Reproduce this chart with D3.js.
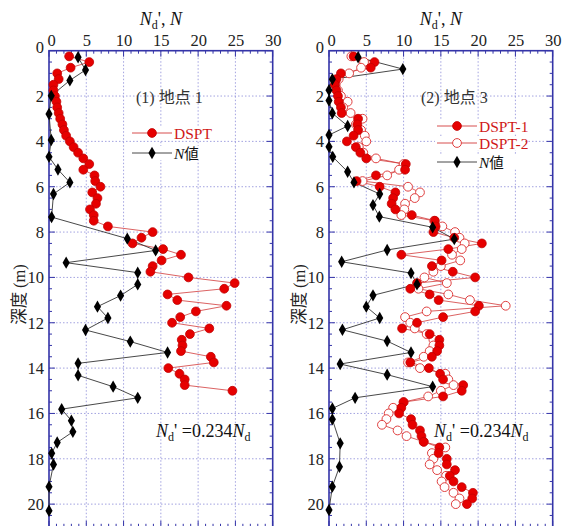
<!DOCTYPE html>
<html>
<head>
<meta charset="utf-8">
<script src="https://cdn.jsdelivr.net/npm/d3@7/dist/d3.min.js"></script>
<style>
  html, body { margin: 0; padding: 0; background: #fff; }
  svg { display: block; }
</style>
</head>
<body>
<svg id="chart" width="563" height="526"></svg>
<script>
// ---- data --------------------------------------------------------------
const xTicks = [0, 5, 10, 15, 20, 25, 30];
const yTicks = [0, 2, 4, 6, 8, 10, 12, 14, 16, 18, 20];

// Site 1: DSPT (converted N_d') at 0.25 m spacing
const site1DsptDepth = [0.25,0.5,0.75,1.0,1.25,1.5,1.75,2.0,2.25,2.5,2.75,3.0,3.25,3.5,3.75,4.0,4.25,4.5,4.75,5.0,
  5.25,5.5,5.75,6.0,6.25,6.5,6.75,7.0,7.25,7.5,7.75,8.0,8.25,8.5,8.75,9.0,9.25,9.5,9.75,10.0,
  10.25,10.5,10.75,11.0,11.25,11.5,11.75,12.0,12.25,12.5,12.75,13.0,13.25,13.5,13.75,14.0,14.25,14.5,14.75,15.0];
const site1Dspt = [2.7,5.4,2.9,1.1,1.3,0.6,0.6,0.8,1.0,1.1,1.3,1.5,1.8,2.0,2.3,2.8,3.3,3.9,4.6,5.4,
  4.6,6.1,6.2,6.9,5.8,6.5,6.3,5.5,6.0,6.0,7.9,13.9,12.4,11.2,15.3,17.7,15.1,13.9,13.6,18.7,
  24.9,23.5,15.9,17.2,23.8,19.7,17.6,16.5,21.5,18.9,17.8,17.9,17.7,21.7,22.1,16.0,17.5,18.2,18.2,24.6];

// Site 1: SPT N value
const site1NDepth = [0.29,0.85,1.31,1.99,2.79,3.94,4.68,5.24,5.81,6.32,7.34,8.29,8.81,9.35,9.79,10.31,10.80,
  11.29,11.79,12.32,12.83,13.31,13.79,14.32,14.82,15.31,15.81,16.32,16.81,17.28,17.76,18.25,19.23,20.29];
const site1N = [3.9,4.9,2.8,0.3,0,0.3,0,1.2,2.8,0.6,0.35,10.5,14.3,2.3,11.9,11.9,9.6,
  6.5,7.9,4.9,10.9,15.9,3.9,3.9,8.6,11.9,1.7,3.0,3.2,1.1,0.36,0.6,0,0];

// Site 3: DSPT-1 and DSPT-2 at 0.25 m spacing
const site3DsptDepth = [0.25,0.5,0.75,1.0,1.25,1.5,1.75,2.0,2.25,2.5,2.75,3.0,3.25,3.5,3.75,4.0,4.25,4.5,4.75,5.0,
  5.25,5.5,5.75,6.0,6.25,6.5,6.75,7.0,7.25,7.5,7.75,8.0,8.25,8.5,8.75,9.0,9.25,9.5,9.75,10.0,
  10.25,10.5,10.75,11.0,11.25,11.5,11.75,12.0,12.25,12.5,12.75,13.0,13.25,13.5,13.75,14.0,14.25,14.5,14.75,15.0,
  15.25,15.5,15.75,16.0,16.25,16.5,16.75,17.0,17.25,17.5,17.75,18.0,18.25,18.5,18.75,19.0,19.25,19.5,19.75,20.0];
const site3Dspt1 = [3.3,6.1,5.6,1.6,1.0,0.8,1.0,1.2,1.3,1.6,1.7,3.9,3.8,3.9,3.3,2.4,3.6,4.2,5.0,10.3,
  10.2,6.3,3.7,6.8,8.9,8.6,8.4,8.9,11.1,14.2,14.3,14.0,16.8,20.5,16.0,9.7,15.1,13.8,16.6,19.6,
  11.8,10.9,13.5,14.7,20.1,19.6,15.3,11.8,9.8,13.5,14.8,14.8,14.5,13.8,10.9,13.4,14.9,15.3,18.0,17.8,
  15.3,10.0,9.7,9.4,11.0,11.2,12.2,12.4,12.7,14.8,14.7,15.8,15.8,16.9,16.2,16.7,17.8,19.3,19.2,18.5];
const site3Dspt2 = [3.0,4.7,4.3,2.7,1.3,0.9,1.2,1.6,2.5,1.9,2.9,4.5,3.6,4.3,4.8,5.0,4.0,4.6,6.3,10.0,
  9.4,7.8,4.5,10.6,12.2,11.5,10.2,10.1,9.7,14.1,15.2,16.9,17.5,18.2,17.8,16.5,17.6,15.0,14.0,12.8,
  15.8,12.0,16.0,18.9,23.7,13.1,10.2,10.9,11.5,13.1,14.0,14.0,13.5,12.7,10.6,12.2,15.6,16.0,16.7,15.0,
  13.3,10.0,8.6,8.0,7.7,7.1,9.2,10.4,12.7,15.6,13.8,14.0,13.5,14.5,15.7,15.1,15.5,16.7,17.5,17.0];

// Site 3: SPT N value
const site3NDepth = [0.29,0.81,1.26,1.74,2.2,2.76,3.32,3.72,4.24,4.68,5.34,5.81,6.32,6.81,7.32,7.79,8.31,8.79,
  9.31,9.81,10.3,10.79,11.29,11.79,12.31,12.81,13.31,13.82,14.29,14.82,15.31,15.78,16.26,17.32,18.35,19.23,20.26];
const site3N = [3.9,9.9,0.45,0,0,0.45,2.5,0,0,0.5,2.5,3.35,6.8,5.9,6.75,13.9,16.8,7.8,
  1.7,11.0,11.8,5.9,5.0,6.8,1.8,7.8,11.0,1.5,7.8,13.9,3.5,0.45,0.45,1.5,1.4,0.45,0];

// ---- layout ------------------------------------------------------------
const svg = d3.select("#chart");
const frameColor = "#3434a8";
const gridColor = "#8c8cd8";
const red = "#e60000";
const redLine = "#d23a3a";
const serif = "'Liberation Serif', 'DejaVu Serif', serif";
const cjk = "'Noto Sans CJK JP', 'Noto Sans CJK SC', sans-serif";

const panels = [
  { left: 49, right: 272.7, label: ["(1)", "地点", "1"], labelX: 136,
    series: [
      { depth: site1DsptDepth, value: site1Dspt, type: "filled", name: "DSPT" },
      { depth: site1NDepth, value: site1N, type: "diamond", name: "N値" }
    ],
    legendX: 132, legendY: [133, 153], formulaX: 156 },
  { left: 329, right: 552.7, label: ["(2)", "地点", "3"], labelX: 421,
    series: [
      { depth: site3DsptDepth, value: site3Dspt2, type: "open", name: "DSPT-2" },
      { depth: site3DsptDepth, value: site3Dspt1, type: "filled", name: "DSPT-1" },
      { depth: site3NDepth, value: site3N, type: "diamond", name: "N値" }
    ],
    legendX: 437, legendY: [126, 143, 162], legendOrder: [1, 0, 2], formulaX: 434 }
];

const plotTop = 50.7, plotBottom = 526.8;
const y = d3.scaleLinear().domain([0, 21]).range([plotTop, plotBottom]);

const diamond = d3.symbol().type(d3.symbolDiamond).size(44);

function drawMarker(g, type, cx, cy) {
  if (type === "diamond") {
    g.append("path").attr("d", diamond()).attr("transform", `translate(${cx},${cy})`)
      .attr("fill", "#000");
  } else {
    g.append("circle").attr("cx", cx).attr("cy", cy).attr("r", 4.4)
      .attr("fill", type === "filled" ? red : "#fff")
      .attr("stroke", type === "filled" ? "#c00000" : "#e04040")
      .attr("stroke-width", type === "filled" ? 0.8 : 1);
  }
}

panels.forEach(p => {
  const x = d3.scaleLinear().domain([0, 30]).range([p.left, p.right]);
  const g = svg.append("g");

  // dotted grid
  g.append("g").selectAll("line").data(xTicks.slice(1, -1)).join("line")
    .attr("x1", d => x(d)).attr("x2", d => x(d)).attr("y1", plotTop).attr("y2", plotBottom)
    .attr("stroke", gridColor).attr("stroke-width", 0.8).attr("stroke-dasharray", "1.5,2");
  g.append("g").selectAll("line").data(yTicks.slice(1)).join("line")
    .attr("y1", d => y(d)).attr("y2", d => y(d)).attr("x1", p.left).attr("x2", p.right)
    .attr("stroke", gridColor).attr("stroke-width", 0.8).attr("stroke-dasharray", "1.5,2");

  // inward ticks on all four sides
  const xMinor = d3.range(0, 31, 1);
  const yMinor = d3.range(0, 21.01, 0.5);
  const tk = g.append("g").attr("stroke", frameColor).attr("stroke-width", 1);
  xMinor.forEach(v => {
    const len = v % 5 === 0 ? 6 : 3;
    tk.append("line").attr("x1", x(v)).attr("x2", x(v)).attr("y1", plotTop).attr("y2", plotTop + len);
    tk.append("line").attr("x1", x(v)).attr("x2", x(v)).attr("y1", plotBottom).attr("y2", plotBottom - len);
  });
  yMinor.forEach(v => {
    const len = Math.abs(v % 2) < 1e-9 ? 6 : 3;
    tk.append("line").attr("y1", y(v)).attr("y2", y(v)).attr("x1", p.left).attr("x2", p.left + len);
    tk.append("line").attr("y1", y(v)).attr("y2", y(v)).attr("x1", p.right).attr("x2", p.right - len);
  });

  // frame
  g.append("rect").attr("x", p.left).attr("y", plotTop).attr("width", p.right - p.left)
    .attr("height", plotBottom - plotTop).attr("fill", "none").attr("stroke", frameColor).attr("stroke-width", 1.6);

  // top axis labels
  const xAxis = d3.axisTop(x).tickValues(xTicks).tickSize(0).tickPadding(5);
  const xa = g.append("g").attr("transform", `translate(0,${plotTop})`).call(xAxis);
  xa.select(".domain").remove();
  xa.selectAll("text").attr("font-family", serif).attr("font-size", 16.5).attr("fill", "#222")
    .attr("dx", d => d === 0 ? 2 : 0);

  // left axis labels
  const yAxis = d3.axisLeft(y).tickValues(yTicks).tickSize(0).tickPadding(5);
  const ya = g.append("g").attr("transform", `translate(${p.left},0)`).call(yAxis);
  ya.select(".domain").remove();
  ya.selectAll("text").attr("font-family", serif).attr("font-size", 16.5).attr("fill", "#222")
    .attr("dy", d => d === 0 ? "0.1em" : "0.32em");

  // axis titles
  const xt = g.append("text").attr("x", (p.left + p.right) / 2).attr("y", 25)
    .attr("font-family", serif).attr("font-size", 18).attr("fill", "#111").attr("text-anchor", "middle");
  xt.append("tspan").attr("font-style", "italic").text("N");
  xt.append("tspan").attr("font-size", 12).attr("dy", 4).text("d");
  xt.append("tspan").attr("dy", -4).text("',  ");
  xt.append("tspan").attr("font-style", "italic").text("N");

  const yt = g.append("text")
    .attr("transform", `translate(${p.left - 24},${y(10.75)}) rotate(-90)`)
    .attr("text-anchor", "middle").attr("fill", "#222").attr("font-size", 16.5);
  yt.append("tspan").attr("font-family", cjk).text("深度 ");
  yt.append("tspan").attr("font-family", serif).text("(m)");

  // series
  const line = d3.line().x(d => x(d[1])).y(d => y(d[0]));
  p.series.forEach(s => {
    const pts = s.depth.map((d, i) => [d, s.value[i]]);
    g.append("path").datum(pts).attr("d", line).attr("fill", "none")
      .attr("stroke", s.type === "diamond" ? "#333" : redLine)
      .attr("stroke-width", s.type === "diamond" ? 0.9 : 0.8);
  });
  p.series.forEach(s => {
    const mg = g.append("g");
    s.depth.forEach((d, i) => drawMarker(mg, s.type, x(s.value[i]), y(d)));
  });

  // panel label
  const pl = g.append("text").attr("x", p.labelX).attr("y", 103).attr("font-size", 16).attr("fill", "#333");
  pl.append("tspan").attr("font-family", serif).text(p.label[0] + " ");
  pl.append("tspan").attr("font-family", cjk).text(p.label[1]);
  pl.append("tspan").attr("font-family", serif).text(" " + p.label[2]);

  // legend
  const order = p.legendOrder || p.series.map((_, i) => i);
  order.forEach((si, k) => {
    const s = p.series[si];
    const ly = p.legendY[k];
    const lg = g.append("g");
    lg.append("rect").attr("x", p.legendX - 2).attr("y", ly - 7).attr("width", 90).attr("height", 14).attr("fill", "#fff");
    lg.append("line").attr("x1", p.legendX).attr("x2", p.legendX + 40).attr("y1", ly).attr("y2", ly)
      .attr("stroke", s.type === "diamond" ? "#333" : redLine).attr("stroke-width", 0.9);
    drawMarker(lg, s.type, p.legendX + 20, ly);
    const t = lg.append("text").attr("x", p.legendX + 42).attr("y", ly + 5.5).attr("font-size", 15.5)
      .attr("fill", s.type === "diamond" ? "#111" : "#d01818");
    if (s.type === "diamond") {
      t.append("tspan").attr("font-family", serif).attr("font-style", "italic").text("N");
      t.append("tspan").attr("font-family", cjk).attr("font-size", 14.5).text("値");
    } else {
      t.attr("font-family", serif).text(s.name);
    }
  });

  // conversion formula
  const f = g.append("text").attr("x", p.formulaX).attr("y", 437).attr("font-family", serif)
    .attr("font-size", 18).attr("fill", "#111");
  f.append("tspan").attr("font-style", "italic").text("N");
  f.append("tspan").attr("font-size", 12).attr("dy", 4).text("d");
  f.append("tspan").attr("dy", -4).text("' =0.234");
  f.append("tspan").attr("font-style", "italic").text("N");
  f.append("tspan").attr("font-size", 12).attr("dy", 4).text("d");
});
</script>
</body>
</html>
